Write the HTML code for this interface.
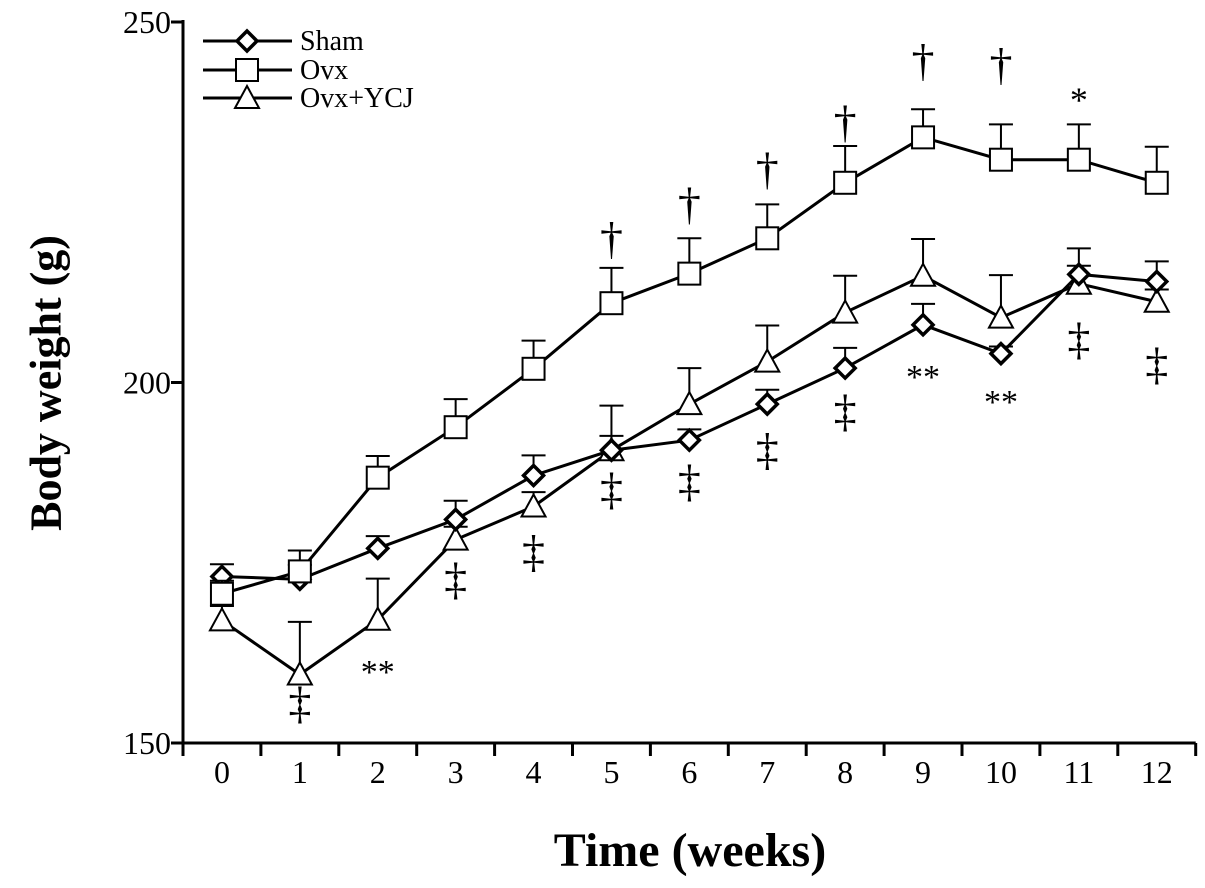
<!DOCTYPE html>
<html><head><meta charset="utf-8"><style>
html,body{margin:0;padding:0;background:#fff;}
svg{display:block;font-family:"Liberation Serif",serif;}
</style></head><body>
<svg id="chart" width="1205" height="888" viewBox="0 0 1205 888">
<g id="axes"></g>
<g id="series"></g>
<g id="annots"></g>
<g id="legend"></g>
<text x="46" y="383" transform="rotate(-90 46 383)" font-size="44" font-weight="bold" text-anchor="middle" dominant-baseline="central">Body weight (g)</text>
<text x="690" y="866" font-size="48" font-weight="bold" text-anchor="middle">Time (weeks)</text>
</svg>
<script>
const weeks = [0,1,2,3,4,5,6,7,8,9,10,11,12];
const yTicks = [150,200,250];
const shamVals = [173.1,172.7,177,181,187.1,190.6,192,197,202,208,204,215,214];
const shamErr = [1.7,2,1.7,2.6,2.8,2,1.5,2,2.8,2.9,1,3.6,2.8];
const ovxVals = [170.7,173.8,186.8,193.8,201.9,211,215.1,220,227.7,234,230.9,230.9,227.7];
const ovxErr = [1.8,2.9,3,3.9,3.9,4.9,4.9,4.7,5.1,3.9,4.9,4.9,5];
const ycjVals = [167,159.5,167.1,178.2,182.8,190.6,197,202.9,209.7,214.8,209,213.7,211.2];
const ycjErr = [2,7.3,5.7,1.8,2,6.2,5,5,5.1,5.1,5.9,2.5,1.7];
const annotWeeks = [5,6,7,8,9,10,11,1,3,4,5,6,7,8,11,12,2,9,10];
const annotVals = [219.8,224.6,229.5,236,244.5,244,240.6,155.4,172.6,176.4,185.1,186.2,190.6,195.9,205.9,202.4,160.8,201.7,198.3];
const annotText = ['†','†','†','†','†','†','*','‡','‡','‡','‡','‡','‡','‡','‡','‡','**','**','**'];

const NS='http://www.w3.org/2000/svg';
const X0=183, STEP=77.9;
const xs = i => X0 + STEP*(i+0.5);
const ys = v => 743 - (v-150)*7.21;
function mk(tag, attrs, parent){const e=document.createElementNS(NS,tag);for(const k in attrs)e.setAttribute(k,attrs[k]);parent.appendChild(e);return e;}
const axes=document.getElementById('axes');
let e;
e=mk('line',{x1:X0,y1:20,x2:X0,y2:745,stroke:'#000','stroke-width':3},axes);


e=mk('line',{x1:X0-2,y1:743,x2:X0+STEP*13,y2:743,stroke:'#000','stroke-width':3},axes);


yTicks.forEach(t=>{
 const y=ys(t);
 e=mk('line',{x1:X0-12,y1:y,x2:X0,y2:y,stroke:'#000','stroke-width':3},axes);
 
 
 e=mk('text',{x:X0-12,y:y+11,'font-size':32,'text-anchor':'end'},axes);e.textContent=t;
 
 
});
for(let k=0;k<=13;k++){
 e=mk('line',{x1:X0+STEP*k,y1:743,x2:X0+STEP*k,y2:756,stroke:'#000','stroke-width':3},axes);
 
 
}
weeks.forEach((w,i)=>{
 e=mk('text',{x:xs(i),y:783,'font-size':32,'text-anchor':'middle'},axes);e.textContent=w;
 
 
});
function marker(kind,x,y,g){
 if(kind==='diamond') return mk('polygon',{points:`${x},${y-10} ${x+10},${y} ${x},${y+10} ${x-10},${y}`,fill:'#fff',stroke:'#000','stroke-width':3.5},g);
 if(kind==='square') return mk('rect',{x:x-11,y:y-11,width:22,height:22,fill:'#fff',stroke:'#000','stroke-width':2},g);
 return mk('polygon',{points:`${x},${y-12} ${x+12},${y+10} ${x-12},${y+10}`,fill:'#fff',stroke:'#000','stroke-width':2},g);
}
const ser=document.getElementById('series');
function series(vals,errs,kind,name){
 const g=mk('g',{},ser);
 
 
 vals.forEach((v,i)=>{
  const x=xs(i),y=ys(v),yt=ys(v+errs[i]);
  e=mk('path',{d:`M${x},${y} V${yt} M${x-12},${yt} H${x+12}`,stroke:'#000','stroke-width':2,fill:'none'},g);
  
  
 });
 e=mk('polyline',{points:vals.map((v,i)=>xs(i)+','+ys(v)).join(' '),fill:'none',stroke:'#000','stroke-width':3},g);
 
 
 vals.forEach((v,i)=>{
  e=marker(kind,xs(i),ys(v),g);
  
  
 });
}
series(ycjVals,ycjErr,'triangle','ovx-ycj');
series(shamVals,shamErr,'diamond','sham');
series(ovxVals,ovxErr,'square','ovx');
const an=document.getElementById('annots');
annotText.forEach((t,i)=>{
 const fs = t==='**'?34:(t==='*'?36:46);
 const off = t==='**'?18:(t==='*'?22:14);
 e=mk('text',{x:xs(annotWeeks[i]),y:ys(annotVals[i])+off,'font-size':fs,'text-anchor':'middle'},an);
 e.textContent=t;
 
 
});
const lg=document.getElementById('legend');
[['diamond','Sham',41],['square','Ovx',70],['triangle','Ovx+YCJ',98]].forEach(([k,l,y])=>{
 const g=mk('g',{},lg);
 
 
 mk('line',{x1:203,y1:y,x2:292,y2:y,stroke:'#000','stroke-width':3},g);
 marker(k,247,y,g);
 e=mk('text',{x:300,y:y+9,'font-size':28},g);e.textContent=l;
});
</script>
</body></html>
